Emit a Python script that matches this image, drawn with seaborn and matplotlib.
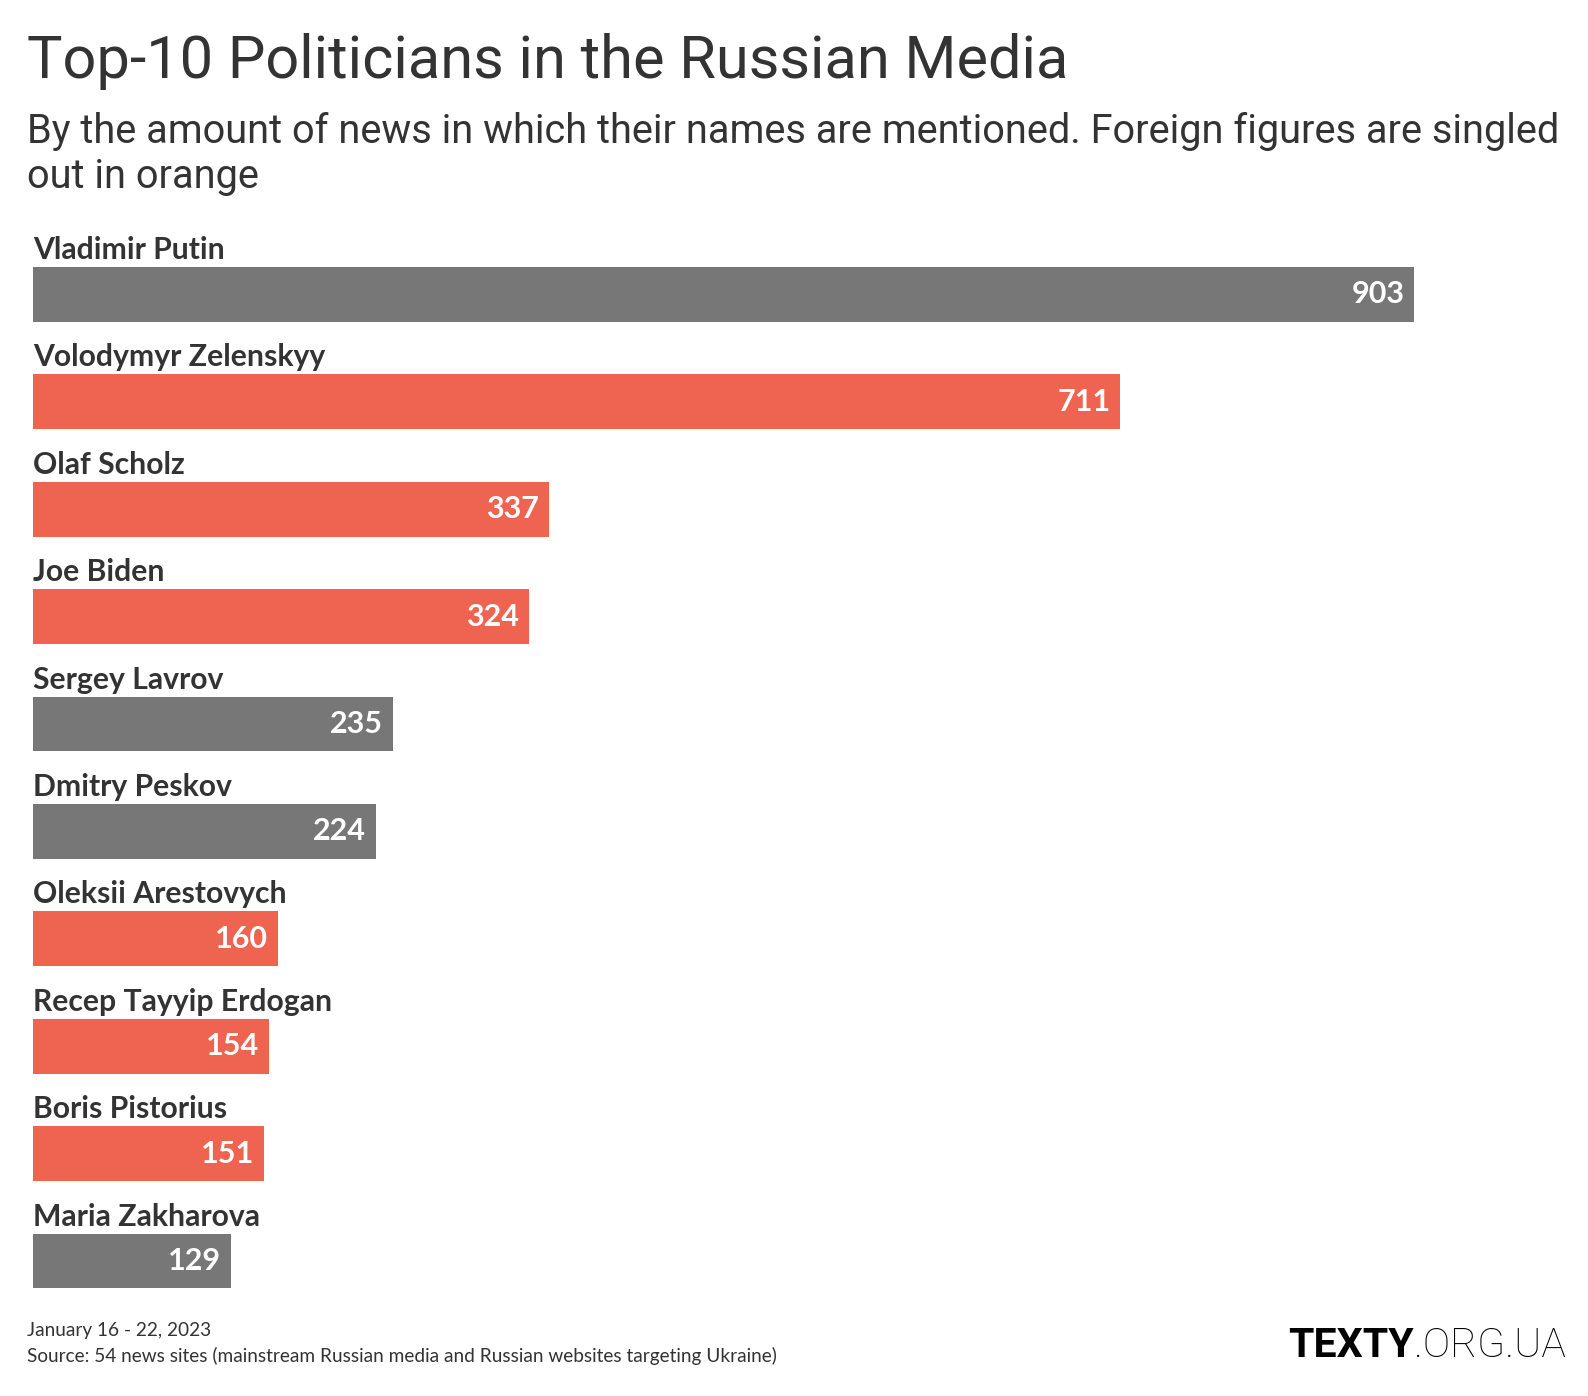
import matplotlib
matplotlib.use("Agg")
import matplotlib.pyplot as plt
import pandas as pd
import seaborn as sns

# === data ===
NAMES = [
    "Vladimir Putin", "Volodymyr Zelenskyy", "Olaf Scholz", "Joe Biden",
    "Sergey Lavrov", "Dmitry Peskov", "Oleksii Arestovych",
    "Recep Tayyip Erdogan", "Boris Pistorius", "Maria Zakharova",
]
MENTIONS = [903, 711, 337, 324, 235, 224, 160, 154, 151, 129]
GROUPS = ["Russian", "Foreign", "Foreign", "Foreign", "Russian",
          "Russian", "Foreign", "Foreign", "Foreign", "Russian"]

TITLE = "Top-10 Politicians in the Russian Media"
SUBTITLE_LINES = [
    "By the amount of news in which their names are mentioned. "
    "Foreign figures are singled",
    "out in orange",
]
DATE_NOTE = "January 16 - 22, 2023"
SOURCE_NOTE = ("Source: 54 news sites (mainstream Russian media and Russian "
               "websites targeting Ukraine)")

PALETTE = {"Russian": "#777777", "Foreign": "#ef6450"}
TEXT_COLOR = "#333333"
W, H = 1588, 1396

sns.set_theme(style="white")
plt.rcParams["font.family"] = ["Lato", "DejaVu Sans"]

df = pd.DataFrame({"name": NAMES, "mentions": MENTIONS, "group": GROUPS})

fig = plt.figure(figsize=(W / 100, H / 100), dpi=100)
fig.patch.set_facecolor("white")

# axes placed so category centres fall where the reference bars sit
left_px, right_px = 33.4, 1414
top_px, bottom_px = 197.8, 1314.8
ax = fig.add_axes([left_px / W, 1 - bottom_px / H,
                   (right_px - left_px) / W, (bottom_px - top_px) / H])

sns.barplot(data=df, x="mentions", y="name", hue="group", palette=PALETTE,
            dodge=False, legend=False, width=0.51, orient="h", ax=ax,
            saturation=1, linewidth=0)
ax.set_xlim(0, max(MENTIONS))
ax.set_ylim(len(NAMES) - 0.5, -0.9)
ax.set_axis_off()

for i, (name, val) in enumerate(zip(NAMES, MENTIONS)):
    ax.text(0, i - 0.33, name, ha="left", va="baseline", fontsize=21.7,
            fontweight="bold", color=TEXT_COLOR, clip_on=False)
    ax.annotate(str(val), (val, i), xytext=(-7, 0), textcoords="offset points",
                ha="right", va="center", fontsize=22, fontweight="bold",
                color="white")

# title block
fig.text(27 / W, 1 - 78 / H, TITLE, fontsize=42.8, color=TEXT_COLOR,
         family=["Roboto", "DejaVu Sans"], va="baseline")
for k, line in enumerate(SUBTITLE_LINES):
    fig.text(27 / W, 1 - (143 + 45 * k) / H, line, fontsize=28.6,
             color=TEXT_COLOR, family=["Roboto", "DejaVu Sans"],
             va="baseline")

# footer
fig.text(27 / W, 1 - 1336 / H, DATE_NOTE, fontsize=13.7, color=TEXT_COLOR,
         va="baseline")
fig.text(27 / W, 1 - 1362 / H, SOURCE_NOTE, fontsize=13.7, color=TEXT_COLOR,
         va="baseline")

# logo: bold TEXTY followed by light .ORG.UA
logo = fig.text(1288 / W, 1 - 1357 / H, "TEXTY", fontsize=29.5,
                color="black", fontweight="bold",
                family=["Roboto", "DejaVu Sans"], va="baseline")
fig.canvas.draw()
bb = logo.get_window_extent()
fig.text(bb.x1 / W, 1 - 1357 / H, ".ORG.UA", fontsize=29.5, color="black",
         fontweight="light", family=["Roboto", "DejaVu Sans"],
         va="baseline")

fig.savefig("out.png", dpi=100, facecolor="white")
